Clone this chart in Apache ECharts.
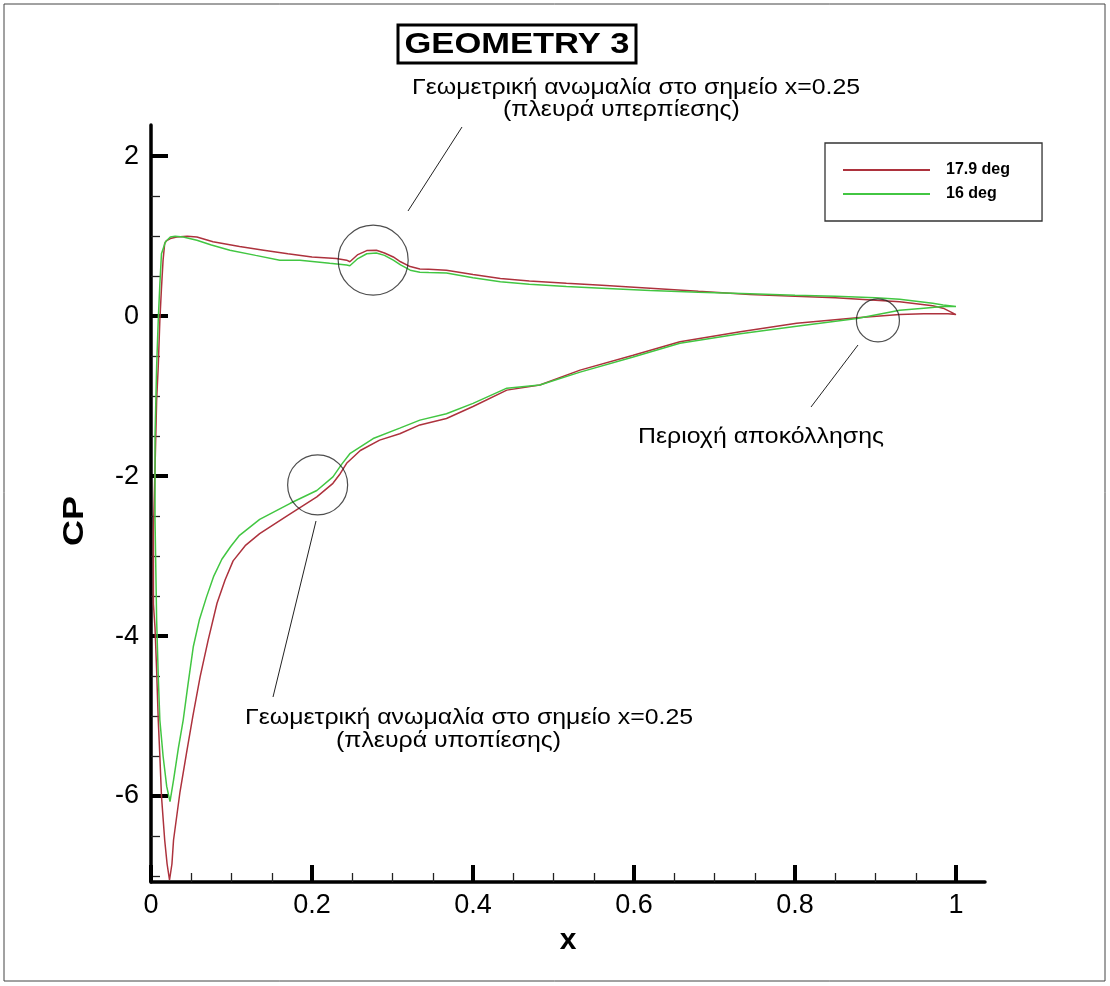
<!DOCTYPE html>
<html>
<head>
<meta charset="utf-8">
<script src="https://cdn.jsdelivr.net/npm/echarts@6/dist/echarts.min.js"></script>
<style>
  html, body { margin: 0; padding: 0; background: #ffffff; }
  #chart { width: 1110px; height: 986px; }
</style>
</head>
<body>
<div id="chart"></div>
<script>
// Pressure coefficient around the section, traced as a closed loop:
// trailing edge -> upper branch -> leading edge -> suction peak -> trailing edge.
const seriesNames = ['17.9 deg', '16 deg'];

const xMajorTicks = [0, 0.2, 0.4, 0.6, 0.8, 1];
const xMinorTicks = [0.05, 0.1, 0.15, 0.25, 0.3, 0.35, 0.45, 0.5, 0.55, 0.65, 0.7, 0.75, 0.85, 0.9, 0.95];
const yMajorTicks = [-6, -4, -2, 0, 2];
const yMinorTicks = [-7, -6.5, -5.5, -5, -4.5, -3.5, -3, -2.5, -1.5, -1, -0.5, 0.5, 1, 1.5];

// 17.9 deg
const x179 = [
  1.000, 0.984, 0.971, 0.930, 0.900, 0.850, 0.800, 0.744, 0.680, 0.620,
  0.560, 0.516, 0.470, 0.434, 0.400, 0.367, 0.345, 0.334, 0.322, 0.310,
  0.301, 0.290, 0.280, 0.268, 0.257, 0.247, 0.243, 0.230, 0.200, 0.170,
  0.140, 0.110, 0.077, 0.057, 0.045, 0.032, 0.024, 0.019, 0.017, 0.015,
  0.013, 0.011, 0.009, 0.007, 0.005, 0.003, 0.003, 0.005, 0.007, 0.009,
  0.011, 0.013, 0.017, 0.020, 0.023, 0.026, 0.028, 0.032, 0.036, 0.044,
  0.052, 0.061, 0.071, 0.082, 0.092, 0.102, 0.117, 0.135, 0.170, 0.206,
  0.226, 0.235, 0.243, 0.260, 0.284, 0.309, 0.334, 0.367, 0.400, 0.442,
  0.483, 0.533, 0.599, 0.657, 0.732, 0.802, 0.877, 0.930, 0.960, 0.990,
  1.000
];
const cp179 = [
  0.02, 0.10, 0.13, 0.18, 0.20, 0.23, 0.25, 0.27, 0.31, 0.35,
  0.385, 0.41, 0.44, 0.47, 0.52, 0.575, 0.585, 0.59, 0.62, 0.68,
  0.74, 0.79, 0.825, 0.82, 0.77, 0.68, 0.70, 0.72, 0.74, 0.78,
  0.825, 0.87, 0.93, 0.99, 1.00, 0.99, 0.97, 0.94, 0.91, 0.70,
  0.35, -0.05, -0.63, -1.05, -1.90, -2.70, -3.60, -3.90, -4.43, -5.05,
  -5.50, -6.00, -6.55, -6.85, -7.05, -6.85, -6.55, -6.25, -5.95, -5.47,
  -5.00, -4.51, -4.05, -3.59, -3.30, -3.06, -2.87, -2.72, -2.49, -2.26,
  -2.09, -1.97, -1.84, -1.68, -1.55, -1.47, -1.36, -1.28, -1.13, -0.925,
  -0.86, -0.675, -0.49, -0.32, -0.196, -0.09, -0.02, 0.02, 0.03, 0.03,
  0.02
];

// 16 deg
const x16 = [
  1.000, 0.984, 0.971, 0.930, 0.900, 0.850, 0.800, 0.744, 0.680, 0.620,
  0.560, 0.516, 0.470, 0.434, 0.400, 0.367, 0.345, 0.334, 0.322, 0.310,
  0.301, 0.290, 0.280, 0.268, 0.257, 0.247, 0.243, 0.222, 0.185, 0.160,
  0.130, 0.098, 0.075, 0.057, 0.040, 0.030, 0.024, 0.018, 0.013, 0.011,
  0.009, 0.007, 0.005, 0.005, 0.007, 0.009, 0.011, 0.015, 0.0195, 0.0236,
  0.028, 0.034, 0.040, 0.046, 0.0526, 0.060, 0.069, 0.078, 0.088, 0.099,
  0.110, 0.135, 0.173, 0.206, 0.226, 0.237, 0.247, 0.276, 0.309, 0.334,
  0.367, 0.400, 0.442, 0.483, 0.533, 0.599, 0.657, 0.732, 0.802, 0.877,
  0.930, 0.960, 0.984, 1.000
];
const cp16 = [
  0.12, 0.14, 0.16, 0.21, 0.23, 0.25, 0.26, 0.28, 0.30, 0.32,
  0.35, 0.37, 0.40, 0.43, 0.48, 0.54, 0.545, 0.55, 0.575, 0.64,
  0.70, 0.76, 0.79, 0.78, 0.72, 0.63, 0.64, 0.66, 0.70, 0.70,
  0.76, 0.825, 0.89, 0.95, 0.99, 1.00, 0.99, 0.93, 0.78, 0.40,
  -0.05, -0.63, -1.50, -2.55, -3.80, -4.50, -5.05, -5.50, -5.88, -6.07,
  -5.80, -5.40, -5.05, -4.60, -4.13, -3.80, -3.51, -3.25, -3.04, -2.88,
  -2.74, -2.54, -2.34, -2.18, -2.01, -1.85, -1.72, -1.53, -1.40, -1.30,
  -1.22, -1.09, -0.90, -0.86, -0.70, -0.51, -0.34, -0.22, -0.125, -0.03,
  0.075, 0.10, 0.12, 0.12
];

const FONT = '"Liberation Sans", Arial, Helvetica, sans-serif';
const RED = '#ad323d';
const GREEN = '#42c642';

function pairs(xs, ys) { return xs.map((x, i) => [x, ys[i]]); }

const chart = echarts.init(document.getElementById('chart'), null, { renderer: 'canvas' });

const baseX = { type: 'value', min: 0, max: 1.036, position: 'bottom', splitLine: { show: false } };
const baseY = { type: 'value', min: -7.075, max: 2.39, position: 'left', splitLine: { show: false } };

// helper for the free-standing note text (slightly widened face)
function note(x, y, text) {
  return {
    type: 'text', silent: true, x: x, y: y, scaleX: 1.13, scaleY: 1, originX: 0, originY: 0,
    style: { text: text, font: '22px ' + FONT, fill: '#000', verticalAlign: 'middle' }
  };
}

chart.setOption({
  backgroundColor: '#ffffff',
  animation: false,
  textStyle: { fontFamily: FONT },
  grid: { left: 151, top: 125, width: 834, height: 757, containLabel: false },
  xAxis: [
    Object.assign({}, baseX, {
      name: 'x', nameLocation: 'middle', nameGap: 44,
      nameTextStyle: { fontFamily: FONT, fontSize: 30, fontWeight: 'bold', color: '#000' },
      axisLine: { show: true, onZero: false, lineStyle: { color: '#000', width: 3.5 } },
      axisTick: { show: true, inside: true, length: 17, lineStyle: { color: '#000', width: 4 }, customValues: xMajorTicks },
      axisLabel: { show: true, margin: 10, fontFamily: FONT, fontSize: 27, color: '#000', customValues: xMajorTicks, formatter: v => String(v) }
    }),
    Object.assign({}, baseX, {
      axisLine: { show: false, onZero: false },
      axisTick: { show: true, inside: true, length: 9, lineStyle: { color: '#222', width: 1.3 }, customValues: xMinorTicks },
      axisLabel: { show: false }
    })
  ],
  yAxis: [
    Object.assign({}, baseY, {
      axisLine: { show: true, onZero: false, lineStyle: { color: '#000', width: 3.5 } },
      axisTick: { show: true, inside: true, length: 17, lineStyle: { color: '#000', width: 4 }, customValues: yMajorTicks },
      axisLabel: { show: true, margin: 12, fontFamily: FONT, fontSize: 27, color: '#000', customValues: yMajorTicks, formatter: v => String(v) }
    }),
    Object.assign({}, baseY, {
      axisLine: { show: false, onZero: false },
      axisTick: { show: true, inside: true, length: 9, lineStyle: { color: '#222', width: 1.3 }, customValues: yMinorTicks },
      axisLabel: { show: false }
    })
  ],
  legend: {
    data: seriesNames,
    orient: 'vertical',
    left: 825, top: 143,
    icon: 'rect', itemWidth: 87, itemHeight: 2, itemGap: 8,
    padding: [19, 32, 19, 18],
    backgroundColor: '#ffffff',
    borderColor: '#333', borderWidth: 1.3, borderRadius: 0,
    selectedMode: false,
    textStyle: { fontFamily: FONT, fontSize: 16, fontWeight: 'bold', color: '#000', lineHeight: 15, padding: [0, 0, 0, 11] }
  },
  series: [
    {
      name: seriesNames[0], type: 'line', data: pairs(x179, cp179),
      xAxisIndex: 0, yAxisIndex: 0,
      showSymbol: false, symbol: 'none', smooth: false,
      lineStyle: { color: RED, width: 1.5 }, itemStyle: { color: RED }, z: 3
    },
    {
      name: seriesNames[1], type: 'line', data: pairs(x16, cp16),
      xAxisIndex: 0, yAxisIndex: 0,
      showSymbol: false, symbol: 'none', smooth: false,
      lineStyle: { color: GREEN, width: 1.5 }, itemStyle: { color: GREEN }, z: 3
    },
    {
      // rings marking the regions discussed in the notes
      type: 'scatter', xAxisIndex: 0, yAxisIndex: 0, silent: true, z: 4,
      data: [
        { value: [0.276, 0.70], symbolSize: 70 },
        { value: [0.207, -2.11], symbolSize: 60 },
        { value: [0.903, -0.054], symbolSize: 43 }
      ],
      symbol: 'circle',
      itemStyle: { color: 'rgba(0,0,0,0)', borderColor: '#222', borderWidth: 1.2 }
    }
  ],
  graphic: [
    { type: 'rect', silent: true, shape: { x: 4, y: 4, width: 1101, height: 977 },
      style: { fill: null, stroke: '#444', lineWidth: 1 } },
    { type: 'rect', silent: true, shape: { x: 398, y: 25, width: 238, height: 38 },
      style: { fill: '#fff', stroke: '#000', lineWidth: 3 } },
    { type: 'text', silent: true, x: 517, y: 45, scaleX: 1.15, originX: 0, originY: 0,
      style: { text: 'GEOMETRY 3', font: 'bold 30px ' + FONT, fill: '#000', align: 'center', verticalAlign: 'middle' } },

    // axis title for the vertical axis
    { type: 'text', silent: true, x: 75, y: 521, rotation: Math.PI / 2, scaleX: 1.2, originX: 0, originY: 0,
      style: { text: 'CP', font: 'bold 30px ' + FONT, fill: '#000', align: 'center', verticalAlign: 'middle' } },

    // leader lines
    { type: 'line', silent: true, shape: { x1: 408, y1: 211, x2: 462, y2: 127 }, style: { stroke: '#222', lineWidth: 1 } },
    { type: 'line', silent: true, shape: { x1: 316, y1: 521, x2: 273, y2: 697 }, style: { stroke: '#222', lineWidth: 1 } },
    { type: 'line', silent: true, shape: { x1: 858, y1: 345, x2: 811, y2: 407 }, style: { stroke: '#222', lineWidth: 1 } },

    // notes
    note(412, 88, 'Γεωμετρική ανωμαλία στο σημείο x=0.25'),
    note(503, 110, '(πλευρά υπερπίεσης)'),
    note(245, 718, 'Γεωμετρική ανωμαλία στο σημείο x=0.25'),
    note(336, 741, '(πλευρά υποπίεσης)'),
    note(638, 437, 'Περιοχή αποκόλλησης')
  ]
});
</script>
</body>
</html>
